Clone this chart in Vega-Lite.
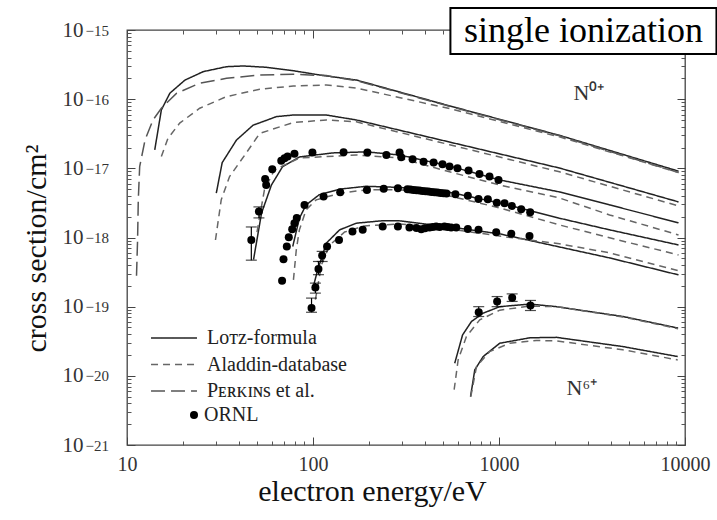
{
  "$schema": "https://vega.github.io/schema/vega-lite/v6.json",
  "width": 558,
  "height": 415,
  "autosize": {"type": "none"},
  "padding": {"left": 127, "top": 30, "right": 32, "bottom": 75},
  "background": "white",
  "config": {
    "view": {"stroke": "#444", "strokeWidth": 1.3},
    "font": "Liberation Serif"
  },
  "datasets": {
    "curves": [
      {"m": "Lotz", "ion": "N0", "E": 14.1, "s": 1.85e-17},
      {"m": "Lotz", "ion": "N0", "E": 15.3, "s": 6.98e-17},
      {"m": "Lotz", "ion": "N0", "E": 17.0, "s": 1.22e-16},
      {"m": "Lotz", "ion": "N0", "E": 20.5, "s": 1.89e-16},
      {"m": "Lotz", "ion": "N0", "E": 25.7, "s": 2.5e-16},
      {"m": "Lotz", "ion": "N0", "E": 34.3, "s": 2.95e-16},
      {"m": "Lotz", "ion": "N0", "E": 42.2, "s": 3.02e-16},
      {"m": "Lotz", "ion": "N0", "E": 56.2, "s": 2.89e-16},
      {"m": "Lotz", "ion": "N0", "E": 78.3, "s": 2.58e-16},
      {"m": "Lotz", "ion": "N0", "E": 108, "s": 2.24e-16},
      {"m": "Lotz", "ion": "N0", "E": 171, "s": 1.89e-16},
      {"m": "Lotz", "ion": "N0", "E": 542, "s": 8.0e-17},
      {"m": "Lotz", "ion": "N0", "E": 2113, "s": 3.0e-17},
      {"m": "Lotz", "ion": "N0", "E": 9230, "s": 9.1e-18},
      {"m": "Perkins", "ion": "N0", "E": 11.25, "s": 2.8e-19},
      {"m": "Perkins", "ion": "N0", "E": 11.4, "s": 9.3e-19},
      {"m": "Perkins", "ion": "N0", "E": 11.5, "s": 3.5e-18},
      {"m": "Perkins", "ion": "N0", "E": 11.7, "s": 1.06e-17},
      {"m": "Perkins", "ion": "N0", "E": 12.5, "s": 2.57e-17},
      {"m": "Perkins", "ion": "N0", "E": 13.8, "s": 5.0e-17},
      {"m": "Perkins", "ion": "N0", "E": 15.3, "s": 7.4e-17},
      {"m": "Perkins", "ion": "N0", "E": 18.5, "s": 1.22e-16},
      {"m": "Perkins", "ion": "N0", "E": 24.6, "s": 1.7e-16},
      {"m": "Perkins", "ion": "N0", "E": 34.3, "s": 2.0e-16},
      {"m": "Perkins", "ion": "N0", "E": 51.7, "s": 2.24e-16},
      {"m": "Perkins", "ion": "N0", "E": 78.3, "s": 2.29e-16},
      {"m": "Perkins", "ion": "N0", "E": 118, "s": 2.19e-16},
      {"m": "Perkins", "ion": "N0", "E": 171, "s": 1.85e-16},
      {"m": "Perkins", "ion": "N0", "E": 542, "s": 7.9e-17},
      {"m": "Perkins", "ion": "N0", "E": 2113, "s": 2.95e-17},
      {"m": "Perkins", "ion": "N0", "E": 9230, "s": 8.7e-18},
      {"m": "Aladdin", "ion": "N0", "E": 15.3, "s": 1.48e-17},
      {"m": "Aladdin", "ion": "N0", "E": 16.6, "s": 2.72e-17},
      {"m": "Aladdin", "ion": "N0", "E": 19.2, "s": 4.5e-17},
      {"m": "Aladdin", "ion": "N0", "E": 24.6, "s": 7.4e-17},
      {"m": "Aladdin", "ion": "N0", "E": 34.3, "s": 1.09e-16},
      {"m": "Aladdin", "ion": "N0", "E": 51.7, "s": 1.39e-16},
      {"m": "Aladdin", "ion": "N0", "E": 78.3, "s": 1.55e-16},
      {"m": "Aladdin", "ion": "N0", "E": 118, "s": 1.6e-16},
      {"m": "Aladdin", "ion": "N0", "E": 171, "s": 1.45e-16},
      {"m": "Aladdin", "ion": "N0", "E": 542, "s": 7.3e-17},
      {"m": "Aladdin", "ion": "N0", "E": 2113, "s": 2.85e-17},
      {"m": "Aladdin", "ion": "N0", "E": 9230, "s": 8.7e-18},
      {"m": "Lotz", "ion": "N1", "E": 30.2, "s": 4.37e-18},
      {"m": "Lotz", "ion": "N1", "E": 32.5, "s": 1.21e-17},
      {"m": "Lotz", "ion": "N1", "E": 38.8, "s": 2.57e-17},
      {"m": "Lotz", "ion": "N1", "E": 47.6, "s": 4.2e-17},
      {"m": "Lotz", "ion": "N1", "E": 63.7, "s": 5.6e-17},
      {"m": "Lotz", "ion": "N1", "E": 78.3, "s": 5.9e-17},
      {"m": "Lotz", "ion": "N1", "E": 118, "s": 5.9e-17},
      {"m": "Lotz", "ion": "N1", "E": 171, "s": 5.0e-17},
      {"m": "Lotz", "ion": "N1", "E": 542, "s": 2.4e-17},
      {"m": "Lotz", "ion": "N1", "E": 2113, "s": 1.01e-17},
      {"m": "Lotz", "ion": "N1", "E": 9230, "s": 3.27e-18},
      {"m": "Aladdin", "ion": "N1", "E": 29.9, "s": 9.2e-19},
      {"m": "Aladdin", "ion": "N1", "E": 32.1, "s": 3.5e-18},
      {"m": "Aladdin", "ion": "N1", "E": 35.6, "s": 7.6e-18},
      {"m": "Aladdin", "ion": "N1", "E": 43.7, "s": 1.66e-17},
      {"m": "Aladdin", "ion": "N1", "E": 51.7, "s": 3.2e-17},
      {"m": "Aladdin", "ion": "N1", "E": 78.3, "s": 4.6e-17},
      {"m": "Aladdin", "ion": "N1", "E": 118, "s": 5.0e-17},
      {"m": "Aladdin", "ion": "N1", "E": 171, "s": 4.7e-17},
      {"m": "Aladdin", "ion": "N1", "E": 542, "s": 2.2e-17},
      {"m": "Aladdin", "ion": "N1", "E": 2113, "s": 8.9e-18},
      {"m": "Aladdin", "ion": "N1", "E": 9230, "s": 2.86e-18},
      {"m": "Lotz", "ion": "N2", "E": 47.9, "s": 4.8e-19},
      {"m": "Lotz", "ion": "N2", "E": 52.9, "s": 2.26e-18},
      {"m": "Lotz", "ion": "N2", "E": 59.8, "s": 5.75e-18},
      {"m": "Lotz", "ion": "N2", "E": 68.5, "s": 1.05e-17},
      {"m": "Lotz", "ion": "N2", "E": 84.5, "s": 1.46e-17},
      {"m": "Lotz", "ion": "N2", "E": 127, "s": 1.67e-17},
      {"m": "Lotz", "ion": "N2", "E": 194, "s": 1.73e-17},
      {"m": "Lotz", "ion": "N2", "E": 292, "s": 1.56e-17},
      {"m": "Lotz", "ion": "N2", "E": 542, "s": 1.08e-17},
      {"m": "Lotz", "ion": "N2", "E": 1007, "s": 6.8e-18},
      {"m": "Lotz", "ion": "N2", "E": 2113, "s": 4.56e-18},
      {"m": "Lotz", "ion": "N2", "E": 3930, "s": 2.96e-18},
      {"m": "Lotz", "ion": "N2", "E": 9230, "s": 1.63e-18},
      {"m": "Aladdin", "ion": "N2", "E": 50.0, "s": 1.2e-18},
      {"m": "Aladdin", "ion": "N2", "E": 54.8, "s": 4.88e-18},
      {"m": "Aladdin", "ion": "N2", "E": 62.1, "s": 9.5e-18},
      {"m": "Aladdin", "ion": "N2", "E": 84.5, "s": 1.41e-17},
      {"m": "Aladdin", "ion": "N2", "E": 171, "s": 1.56e-17},
      {"m": "Aladdin", "ion": "N2", "E": 292, "s": 1.41e-17},
      {"m": "Aladdin", "ion": "N2", "E": 542, "s": 8.9e-18},
      {"m": "Aladdin", "ion": "N2", "E": 1007, "s": 5.75e-18},
      {"m": "Aladdin", "ion": "N2", "E": 2113, "s": 3.73e-18},
      {"m": "Aladdin", "ion": "N2", "E": 3930, "s": 2.12e-18},
      {"m": "Aladdin", "ion": "N2", "E": 9230, "s": 1.09e-18},
      {"m": "Lotz", "ion": "N3", "E": 77.8, "s": 7.4e-19},
      {"m": "Lotz", "ion": "N3", "E": 84.5, "s": 1.9e-18},
      {"m": "Lotz", "ion": "N3", "E": 91.8, "s": 2.96e-18},
      {"m": "Lotz", "ion": "N3", "E": 108, "s": 4.15e-18},
      {"m": "Lotz", "ion": "N3", "E": 139, "s": 5.0e-18},
      {"m": "Lotz", "ion": "N3", "E": 193, "s": 5.5e-18},
      {"m": "Lotz", "ion": "N3", "E": 292, "s": 5.3e-18},
      {"m": "Lotz", "ion": "N3", "E": 542, "s": 4.5e-18},
      {"m": "Lotz", "ion": "N3", "E": 1007, "s": 3.16e-18},
      {"m": "Lotz", "ion": "N3", "E": 2113, "s": 1.9e-18},
      {"m": "Lotz", "ion": "N3", "E": 3930, "s": 1.29e-18},
      {"m": "Lotz", "ion": "N3", "E": 9230, "s": 7.8e-19},
      {"m": "Aladdin", "ion": "N3", "E": 78.5, "s": 2.44e-19},
      {"m": "Aladdin", "ion": "N3", "E": 81.3, "s": 6.6e-19},
      {"m": "Aladdin", "ion": "N3", "E": 84.5, "s": 1.29e-18},
      {"m": "Aladdin", "ion": "N3", "E": 91.8, "s": 2.5e-18},
      {"m": "Aladdin", "ion": "N3", "E": 104, "s": 3.5e-18},
      {"m": "Aladdin", "ion": "N3", "E": 139, "s": 4.36e-18},
      {"m": "Aladdin", "ion": "N3", "E": 193, "s": 4.88e-18},
      {"m": "Aladdin", "ion": "N3", "E": 292, "s": 4.9e-18},
      {"m": "Aladdin", "ion": "N3", "E": 542, "s": 3.99e-18},
      {"m": "Aladdin", "ion": "N3", "E": 1007, "s": 2.68e-18},
      {"m": "Aladdin", "ion": "N3", "E": 2113, "s": 1.52e-18},
      {"m": "Aladdin", "ion": "N3", "E": 3930, "s": 9.9e-19},
      {"m": "Aladdin", "ion": "N3", "E": 9230, "s": 5.6e-19},
      {"m": "Lotz", "ion": "N4", "E": 99.3, "s": 1.75e-19},
      {"m": "Lotz", "ion": "N4", "E": 106, "s": 3.4e-19},
      {"m": "Lotz", "ion": "N4", "E": 118, "s": 8.3e-19},
      {"m": "Lotz", "ion": "N4", "E": 139, "s": 1.29e-18},
      {"m": "Lotz", "ion": "N4", "E": 171, "s": 1.61e-18},
      {"m": "Lotz", "ion": "N4", "E": 237, "s": 1.75e-18},
      {"m": "Lotz", "ion": "N4", "E": 292, "s": 1.74e-18},
      {"m": "Lotz", "ion": "N4", "E": 542, "s": 1.42e-18},
      {"m": "Lotz", "ion": "N4", "E": 1007, "s": 1.13e-18},
      {"m": "Lotz", "ion": "N4", "E": 2113, "s": 7.3e-19},
      {"m": "Lotz", "ion": "N4", "E": 3930, "s": 5.07e-19},
      {"m": "Lotz", "ion": "N4", "E": 9230, "s": 2.88e-19},
      {"m": "Aladdin", "ion": "N4", "E": 103, "s": 1.26e-19},
      {"m": "Aladdin", "ion": "N4", "E": 111, "s": 4.0e-19},
      {"m": "Aladdin", "ion": "N4", "E": 123, "s": 7.8e-19},
      {"m": "Aladdin", "ion": "N4", "E": 148, "s": 1.2e-18},
      {"m": "Aladdin", "ion": "N4", "E": 189, "s": 1.47e-18},
      {"m": "Aladdin", "ion": "N4", "E": 292, "s": 1.57e-18},
      {"m": "Aladdin", "ion": "N4", "E": 542, "s": 1.33e-18},
      {"m": "Aladdin", "ion": "N4", "E": 1007, "s": 1.05e-18},
      {"m": "Aladdin", "ion": "N4", "E": 2113, "s": 8.1e-19},
      {"m": "Aladdin", "ion": "N4", "E": 3930, "s": 6.0e-19},
      {"m": "Aladdin", "ion": "N4", "E": 9230, "s": 3.3e-19},
      {"m": "Lotz", "ion": "N5", "E": 578, "s": 1.52e-20},
      {"m": "Lotz", "ion": "N5", "E": 637, "s": 3.9e-20},
      {"m": "Lotz", "ion": "N5", "E": 711, "s": 6.1e-20},
      {"m": "Lotz", "ion": "N5", "E": 822, "s": 8.05e-20},
      {"m": "Lotz", "ion": "N5", "E": 1009, "s": 1.0e-19},
      {"m": "Lotz", "ion": "N5", "E": 1466, "s": 1.09e-19},
      {"m": "Lotz", "ion": "N5", "E": 2037, "s": 1.0e-19},
      {"m": "Lotz", "ion": "N5", "E": 4650, "s": 7.2e-20},
      {"m": "Lotz", "ion": "N5", "E": 9180, "s": 4.9e-20},
      {"m": "Aladdin", "ion": "N5", "E": 574, "s": 6.3e-21},
      {"m": "Aladdin", "ion": "N5", "E": 603, "s": 1.7e-20},
      {"m": "Aladdin", "ion": "N5", "E": 668, "s": 3.7e-20},
      {"m": "Aladdin", "ion": "N5", "E": 788, "s": 6.45e-20},
      {"m": "Aladdin", "ion": "N5", "E": 1009, "s": 8.9e-20},
      {"m": "Aladdin", "ion": "N5", "E": 1466, "s": 1.02e-19},
      {"m": "Aladdin", "ion": "N5", "E": 2037, "s": 1.0e-19},
      {"m": "Aladdin", "ion": "N5", "E": 4650, "s": 7.1e-20},
      {"m": "Aladdin", "ion": "N5", "E": 9180, "s": 4.8e-20},
      {"m": "Lotz", "ion": "N6", "E": 703, "s": 5.0e-21},
      {"m": "Lotz", "ion": "N6", "E": 741, "s": 1.22e-20},
      {"m": "Lotz", "ion": "N6", "E": 822, "s": 1.9e-20},
      {"m": "Lotz", "ion": "N6", "E": 1009, "s": 2.96e-20},
      {"m": "Lotz", "ion": "N6", "E": 1466, "s": 3.55e-20},
      {"m": "Lotz", "ion": "N6", "E": 2037, "s": 3.6e-20},
      {"m": "Lotz", "ion": "N6", "E": 4630, "s": 2.65e-20},
      {"m": "Lotz", "ion": "N6", "E": 9140, "s": 1.9e-20},
      {"m": "Aladdin", "ion": "N6", "E": 705, "s": 5.0e-21},
      {"m": "Aladdin", "ion": "N6", "E": 757, "s": 1.36e-20},
      {"m": "Aladdin", "ion": "N6", "E": 891, "s": 2.24e-20},
      {"m": "Aladdin", "ion": "N6", "E": 1143, "s": 2.96e-20},
      {"m": "Aladdin", "ion": "N6", "E": 1585, "s": 3.24e-20},
      {"m": "Aladdin", "ion": "N6", "E": 2037, "s": 3.2e-20},
      {"m": "Aladdin", "ion": "N6", "E": 4630, "s": 2.38e-20},
      {"m": "Aladdin", "ion": "N6", "E": 9140, "s": 1.7e-20}
    ],
    "ornl": [
      {"src": "ORNL", "ion": "N2", "E": 46.6, "s": 9.2e-19, "lo": 4.7e-19, "hi": 1.42e-18},
      {"src": "ORNL", "ion": "N2", "E": 51.2, "s": 2.37e-18, "lo": 1.92e-18, "hi": 2.77e-18},
      {"src": "ORNL", "ion": "N2", "E": 55.3, "s": 7.0e-18},
      {"src": "ORNL", "ion": "N2", "E": 56.0, "s": 5.75e-18},
      {"src": "ORNL", "ion": "N2", "E": 60.4, "s": 9.7e-18},
      {"src": "ORNL", "ion": "N2", "E": 67.5, "s": 1.29e-17},
      {"src": "ORNL", "ion": "N2", "E": 70.3, "s": 1.4e-17},
      {"src": "ORNL", "ion": "N2", "E": 73, "s": 1.48e-17},
      {"src": "ORNL", "ion": "N2", "E": 79.5, "s": 1.62e-17},
      {"src": "ORNL", "ion": "N2", "E": 99.3, "s": 1.69e-17},
      {"src": "ORNL", "ion": "N2", "E": 146, "s": 1.71e-17},
      {"src": "ORNL", "ion": "N2", "E": 196, "s": 1.69e-17},
      {"src": "ORNL", "ion": "N2", "E": 248, "s": 1.56e-17},
      {"src": "ORNL", "ion": "N2", "E": 292, "s": 1.69e-17},
      {"src": "ORNL", "ion": "N2", "E": 298, "s": 1.45e-17},
      {"src": "ORNL", "ion": "N2", "E": 343, "s": 1.35e-17},
      {"src": "ORNL", "ion": "N2", "E": 393, "s": 1.25e-17},
      {"src": "ORNL", "ion": "N2", "E": 445, "s": 1.21e-17},
      {"src": "ORNL", "ion": "N2", "E": 497, "s": 1.15e-17},
      {"src": "ORNL", "ion": "N2", "E": 542, "s": 1.06e-17},
      {"src": "ORNL", "ion": "N2", "E": 598, "s": 1.0e-17},
      {"src": "ORNL", "ion": "N2", "E": 686, "s": 9.3e-18},
      {"src": "ORNL", "ion": "N2", "E": 785, "s": 8.3e-18},
      {"src": "ORNL", "ion": "N2", "E": 889, "s": 7.6e-18},
      {"src": "ORNL", "ion": "N2", "E": 994, "s": 6.8e-18},
      {"src": "ORNL", "ion": "N3", "E": 68.2, "s": 2.36e-19},
      {"src": "ORNL", "ion": "N3", "E": 69.4, "s": 4.85e-19},
      {"src": "ORNL", "ion": "N3", "E": 72.3, "s": 7.4e-19},
      {"src": "ORNL", "ion": "N3", "E": 74.1, "s": 1.01e-18},
      {"src": "ORNL", "ion": "N3", "E": 77.3, "s": 1.32e-18},
      {"src": "ORNL", "ion": "N3", "E": 79.5, "s": 1.61e-18},
      {"src": "ORNL", "ion": "N3", "E": 81.8, "s": 1.91e-18},
      {"src": "ORNL", "ion": "N3", "E": 90, "s": 2.96e-18},
      {"src": "ORNL", "ion": "N3", "E": 114, "s": 3.9e-18},
      {"src": "ORNL", "ion": "N3", "E": 140, "s": 4.5e-18},
      {"src": "ORNL", "ion": "N3", "E": 195, "s": 4.88e-18},
      {"src": "ORNL", "ion": "N3", "E": 240, "s": 5.05e-18},
      {"src": "ORNL", "ion": "N3", "E": 286, "s": 5.15e-18},
      {"src": "ORNL", "ion": "N3", "E": 322, "s": 4.99e-18},
      {"src": "ORNL", "ion": "N3", "E": 334, "s": 4.94e-18},
      {"src": "ORNL", "ion": "N3", "E": 347, "s": 4.88e-18},
      {"src": "ORNL", "ion": "N3", "E": 360, "s": 4.83e-18},
      {"src": "ORNL", "ion": "N3", "E": 374, "s": 4.78e-18},
      {"src": "ORNL", "ion": "N3", "E": 388, "s": 4.71e-18},
      {"src": "ORNL", "ion": "N3", "E": 403, "s": 4.67e-18},
      {"src": "ORNL", "ion": "N3", "E": 418, "s": 4.62e-18},
      {"src": "ORNL", "ion": "N3", "E": 434, "s": 4.56e-18},
      {"src": "ORNL", "ion": "N3", "E": 450, "s": 4.52e-18},
      {"src": "ORNL", "ion": "N3", "E": 467, "s": 4.47e-18},
      {"src": "ORNL", "ion": "N3", "E": 485, "s": 4.41e-18},
      {"src": "ORNL", "ion": "N3", "E": 503, "s": 4.37e-18},
      {"src": "ORNL", "ion": "N3", "E": 522, "s": 4.32e-18},
      {"src": "ORNL", "ion": "N3", "E": 583, "s": 4.23e-18},
      {"src": "ORNL", "ion": "N3", "E": 680, "s": 4.0e-18},
      {"src": "ORNL", "ion": "N3", "E": 776, "s": 3.6e-18},
      {"src": "ORNL", "ion": "N3", "E": 871, "s": 3.57e-18},
      {"src": "ORNL", "ion": "N3", "E": 973, "s": 3.19e-18},
      {"src": "ORNL", "ion": "N3", "E": 1071, "s": 3.13e-18},
      {"src": "ORNL", "ion": "N3", "E": 1172, "s": 2.86e-18},
      {"src": "ORNL", "ion": "N3", "E": 1316, "s": 2.57e-18},
      {"src": "ORNL", "ion": "N3", "E": 1471, "s": 2.32e-18},
      {"src": "ORNL", "ion": "N4", "E": 98.2, "s": 9.6e-20, "lo": 8.3e-20, "hi": 1.33e-19},
      {"src": "ORNL", "ion": "N4", "E": 103, "s": 1.89e-19, "lo": 1.57e-19, "hi": 2.19e-19},
      {"src": "ORNL", "ion": "N4", "E": 107, "s": 3.5e-19, "lo": 2.9e-19, "hi": 4.5e-19},
      {"src": "ORNL", "ion": "N4", "E": 112, "s": 5.5e-19, "lo": 4.5e-19, "hi": 6.3e-19},
      {"src": "ORNL", "ion": "N4", "E": 119, "s": 7.4e-19},
      {"src": "ORNL", "ion": "N4", "E": 138, "s": 9.2e-19},
      {"src": "ORNL", "ion": "N4", "E": 163, "s": 1.22e-18},
      {"src": "ORNL", "ion": "N4", "E": 185, "s": 1.29e-18},
      {"src": "ORNL", "ion": "N4", "E": 237, "s": 1.44e-18},
      {"src": "ORNL", "ion": "N4", "E": 286, "s": 1.44e-18},
      {"src": "ORNL", "ion": "N4", "E": 330, "s": 1.39e-18},
      {"src": "ORNL", "ion": "N4", "E": 360, "s": 1.37e-18},
      {"src": "ORNL", "ion": "N4", "E": 382, "s": 1.32e-18},
      {"src": "ORNL", "ion": "N4", "E": 400, "s": 1.36e-18},
      {"src": "ORNL", "ion": "N4", "E": 423, "s": 1.39e-18},
      {"src": "ORNL", "ion": "N4", "E": 440, "s": 1.42e-18},
      {"src": "ORNL", "ion": "N4", "E": 459, "s": 1.44e-18},
      {"src": "ORNL", "ion": "N4", "E": 480, "s": 1.42e-18},
      {"src": "ORNL", "ion": "N4", "E": 509, "s": 1.44e-18},
      {"src": "ORNL", "ion": "N4", "E": 530, "s": 1.42e-18},
      {"src": "ORNL", "ion": "N4", "E": 553, "s": 1.39e-18},
      {"src": "ORNL", "ion": "N4", "E": 589, "s": 1.39e-18},
      {"src": "ORNL", "ion": "N4", "E": 680, "s": 1.33e-18},
      {"src": "ORNL", "ion": "N4", "E": 776, "s": 1.29e-18},
      {"src": "ORNL", "ion": "N4", "E": 966, "s": 1.19e-18},
      {"src": "ORNL", "ion": "N4", "E": 1164, "s": 1.13e-18},
      {"src": "ORNL", "ion": "N4", "E": 1459, "s": 1.05e-18},
      {"src": "ORNL", "ion": "N5", "E": 778, "s": 8.3e-20, "lo": 7.2e-20, "hi": 1.0e-19},
      {"src": "ORNL", "ion": "N5", "E": 977, "s": 1.19e-19, "lo": 1.0e-19, "hi": 1.4e-19},
      {"src": "ORNL", "ion": "N5", "E": 1177, "s": 1.35e-19, "lo": 1.19e-19, "hi": 1.53e-19},
      {"src": "ORNL", "ion": "N5", "E": 1476, "s": 1.04e-19, "lo": 8.8e-20, "hi": 1.23e-19}
    ],
    "notes": [
      {"t": "N⁰⁺", "E": 2515, "s": 9.7e-17},
      {"t": "N⁶⁺", "E": 2307, "s": 5.3e-21}
    ],
    "box": [
      {"t": "single ionization", "E": 548, "E2": 14760, "s": 2.08e-15, "s2": 4.5e-16, "Ec": 2844, "sc": 9.67e-16}
    ]
  },
  "resolve": {"axis": {"x": "independent", "y": "independent"}},
  "layer": [
    {
      "data": {"name": "curves"},
      "mark": {"type": "line", "strokeWidth": 1.5},
      "encoding": {
        "x": {"field": "E", "type": "quantitative",
          "scale": {"type": "log", "domain": [10, 10000], "nice": false},
          "axis": {"orient": "bottom", "values": [10, 100, 1000, 10000], "labelExpr": "'' + datum.value",
            "tickSize": -8, "tickColor": "#444", "tickWidth": 1, "domain": false, "grid": false,
            "labelFont": "Liberation Serif", "labelFontSize": 20, "labelColor": "#333", "labelPadding": 17, "labelFlush": false,
            "title": "electron energy/eV", "titleFont": "Liberation Serif", "titleFontSize": 30, "titleFontWeight": "normal",
            "titleColor": "#111", "titleX": 245, "titleY": 55, "titleAlign": "center", "titleBaseline": "alphabetic"}},
        "y": {"field": "s", "type": "quantitative",
          "scale": {"type": "log", "domain": [1e-21, 1e-15], "nice": false},
          "axis": {"orient": "left", "values": [1e-21, 1e-20, 1e-19, 1e-18, 1e-17, 1e-16, 1e-15],
            "labelExpr": "'10'", "labelOverlap": false,
            "tickSize": -8, "tickColor": "#444", "tickWidth": 1, "domain": false, "grid": false,
            "labelFont": "Liberation Serif", "labelFontSize": 21, "labelColor": "#333", "labelPadding": 52,
            "title": "cross section/cm²", "titleFont": "Liberation Serif", "titleFontSize": 30, "titleFontWeight": "normal",
            "titleColor": "#111", "titleX": -82, "titleY": 218, "titleAngle": -90, "titleAlign": "center", "titleBaseline": "alphabetic"}},
        "detail": {"field": "ion"},
        "strokeDash": {"field": "m", "type": "nominal",
          "scale": {"domain": ["Lotz", "Aladdin", "Perkins"], "range": [[1, 0], [7, 5], [14, 6]]},
          "legend": {"title": null, "orient": "none", "legendX": 37, "legendY": 298, "padding": 0,
            "symbolType": "M-4,0L4,0", "symbolSize": 132, "symbolStrokeWidth": 1.5, "labelOffset": 23, "rowPadding": 6.5,
            "labelFont": "Liberation Serif", "labelFontSize": 20, "labelColor": "#222", "labelLimit": 300,
            "labelExpr": "datum.label == 'Lotz' ? 'Lᴏᴛᴢ-formula' : datum.label == 'Aladdin' ? 'Aladdin-database' : 'Pᴇʀᴋɪɴs et al.'"}},
        "color": {"field": "m", "type": "nominal",
          "scale": {"domain": ["Lotz", "Aladdin", "Perkins"], "range": ["#222", "#666", "#555"]},
          "legend": {"title": null, "orient": "none", "legendX": 37, "legendY": 298, "padding": 0,
            "symbolType": "M-4,0L4,0", "symbolSize": 132, "symbolStrokeWidth": 1.5, "labelOffset": 23, "rowPadding": 6.5,
            "labelFont": "Liberation Serif", "labelFontSize": 20, "labelColor": "#222", "labelLimit": 300,
            "labelExpr": "datum.label == 'Lotz' ? 'Lᴏᴛᴢ-formula' : datum.label == 'Aladdin' ? 'Aladdin-database' : 'Pᴇʀᴋɪɴs et al.'"}}
      }
    },
    {
      "data": {"name": "ornl"},
      "mark": {"type": "point", "filled": true, "size": 64, "color": "black", "opacity": 1},
      "encoding": {
        "x": {"field": "E", "type": "quantitative",
          "scale": {"type": "log", "domain": [10, 10000], "nice": false},
          "axis": {"orient": "bottom", "values": [20, 30, 40, 50, 60, 70, 80, 90, 200, 300, 400, 500, 600, 700, 800, 900, 2000, 3000, 4000, 5000, 6000, 7000, 8000, 9000],
            "labels": false, "tickSize": -4, "tickColor": "#555", "tickWidth": 1, "domain": false, "grid": false, "title": null}},
        "y": {"field": "s", "type": "quantitative",
          "scale": {"type": "log", "domain": [1e-21, 1e-15], "nice": false},
          "axis": {"orient": "left", "values": [2e-21, 3e-21, 4e-21, 5e-21, 6e-21, 7e-21, 8e-21, 9e-21, 2e-20, 3e-20, 4e-20, 5e-20, 6e-20, 7e-20, 8e-20, 9e-20, 2e-19, 3e-19, 4e-19, 5e-19, 6e-19, 7e-19, 8e-19, 9e-19, 2e-18, 3e-18, 4e-18, 5e-18, 6e-18, 7e-18, 8e-18, 9e-18, 2e-17, 3e-17, 4e-17, 5e-17, 6e-17, 7e-17, 8e-17, 9e-17, 2e-16, 3e-16, 4e-16, 5e-16, 6e-16, 7e-16, 8e-16, 9e-16],
            "labels": false, "tickSize": -4, "tickColor": "#555", "tickWidth": 1, "domain": false, "grid": false, "title": null}},
        "shape": {"field": "src", "type": "nominal",
          "scale": {"domain": ["ORNL"], "range": ["circle"]},
          "legend": {"title": null, "orient": "none", "legendX": 57, "legendY": 375, "padding": 0,
            "symbolSize": 64, "symbolFillColor": "black", "symbolStrokeColor": "black", "labelOffset": 0,
            "labelFont": "Liberation Serif", "labelFontSize": 20, "labelColor": "#222"}}
      }
    },
    {
      "data": {"name": "ornl"},
      "transform": [{"filter": "isValid(datum.lo)"}],
      "mark": {"type": "rule", "color": "black", "strokeWidth": 1.2},
      "encoding": {
        "x": {"field": "E", "type": "quantitative",
          "scale": {"type": "log", "domain": [10, 10000], "nice": false},
          "axis": {"orient": "top", "values": [10, 100, 1000, 10000], "labels": false,
            "tickSize": -8, "tickColor": "#444", "tickWidth": 1, "domain": false, "grid": false, "title": null}},
        "y": {"field": "lo", "type": "quantitative",
          "scale": {"type": "log", "domain": [1e-21, 1e-15], "nice": false},
          "axis": {"orient": "right", "values": [1e-21, 1e-20, 1e-19, 1e-18, 1e-17, 1e-16, 1e-15], "labels": false,
            "tickSize": -8, "tickColor": "#444", "tickWidth": 1, "domain": false, "grid": false, "title": null}},
        "y2": {"field": "hi"}
      }
    },
    {
      "data": {"name": "ornl"},
      "transform": [{"filter": "isValid(datum.lo)"}],
      "mark": {"type": "tick", "orient": "horizontal", "size": 11, "thickness": 1.2, "color": "black"},
      "encoding": {
        "x": {"field": "E", "type": "quantitative",
          "scale": {"type": "log", "domain": [10, 10000], "nice": false},
          "axis": {"orient": "top", "values": [20, 30, 40, 50, 60, 70, 80, 90, 200, 300, 400, 500, 600, 700, 800, 900, 2000, 3000, 4000, 5000, 6000, 7000, 8000, 9000],
            "labels": false, "tickSize": -4, "tickColor": "#555", "tickWidth": 1, "domain": false, "grid": false, "title": null}},
        "y": {"field": "lo", "type": "quantitative",
          "scale": {"type": "log", "domain": [1e-21, 1e-15], "nice": false},
          "axis": {"orient": "right", "values": [2e-21, 3e-21, 4e-21, 5e-21, 6e-21, 7e-21, 8e-21, 9e-21, 2e-20, 3e-20, 4e-20, 5e-20, 6e-20, 7e-20, 8e-20, 9e-20, 2e-19, 3e-19, 4e-19, 5e-19, 6e-19, 7e-19, 8e-19, 9e-19, 2e-18, 3e-18, 4e-18, 5e-18, 6e-18, 7e-18, 8e-18, 9e-18, 2e-17, 3e-17, 4e-17, 5e-17, 6e-17, 7e-17, 8e-17, 9e-17, 2e-16, 3e-16, 4e-16, 5e-16, 6e-16, 7e-16, 8e-16, 9e-16],
            "labels": false, "tickSize": -4, "tickColor": "#555", "tickWidth": 1, "domain": false, "grid": false, "title": null}}
      }
    },
    {
      "data": {"name": "ornl"},
      "transform": [{"filter": "isValid(datum.hi)"}],
      "mark": {"type": "tick", "orient": "horizontal", "size": 11, "thickness": 1.2, "color": "black"},
      "encoding": {
        "x": {"field": "E", "type": "quantitative", "scale": {"type": "log", "domain": [10, 10000], "nice": false}, "axis": null},
        "y": {"field": "hi", "type": "quantitative", "scale": {"type": "log", "domain": [1e-21, 1e-15], "nice": false},
          "axis": {"orient": "left", "values": [1e-21, 1e-20, 1e-19, 1e-18, 1e-17, 1e-16, 1e-15],
            "labelExpr": "'−' + (-round(log(datum.value)/LN10))", "labelOverlap": false,
            "ticks": false, "tickSize": 0, "domain": false, "grid": false, "title": null,
            "labelAlign": "left", "labelBaseline": "middle", "labelDy": -6,
            "labelFont": "Liberation Serif", "labelFontSize": 15, "labelColor": "#333", "labelPadding": 42}}
      }
    },
    {
      "data": {"name": "notes"},
      "mark": {"type": "text", "align": "left", "baseline": "alphabetic", "fontSize": 22, "font": "Liberation Serif", "color": "#333"},
      "encoding": {
        "x": {"field": "E", "type": "quantitative", "scale": {"type": "log", "domain": [10, 10000], "nice": false}, "axis": null},
        "y": {"field": "s", "type": "quantitative", "scale": {"type": "log", "domain": [1e-21, 1e-15], "nice": false}, "axis": null},
        "text": {"field": "t"}
      }
    },
    {
      "data": {"name": "box"},
      "mark": {"type": "rect", "fill": "white", "stroke": "black", "strokeWidth": 2, "clip": false},
      "encoding": {
        "x": {"field": "E", "type": "quantitative", "scale": {"type": "log", "domain": [10, 10000], "nice": false}, "axis": null},
        "x2": {"field": "E2"},
        "y": {"field": "s", "type": "quantitative", "scale": {"type": "log", "domain": [1e-21, 1e-15], "nice": false}, "axis": null},
        "y2": {"field": "s2"}
      }
    },
    {
      "data": {"name": "box"},
      "mark": {"type": "text", "align": "center", "baseline": "middle", "fontSize": 36, "font": "Liberation Serif", "color": "black", "clip": false},
      "encoding": {
        "x": {"field": "Ec", "type": "quantitative", "scale": {"type": "log", "domain": [10, 10000], "nice": false}, "axis": null},
        "y": {"field": "sc", "type": "quantitative", "scale": {"type": "log", "domain": [1e-21, 1e-15], "nice": false}, "axis": null},
        "text": {"field": "t"}
      }
    }
  ]
}
